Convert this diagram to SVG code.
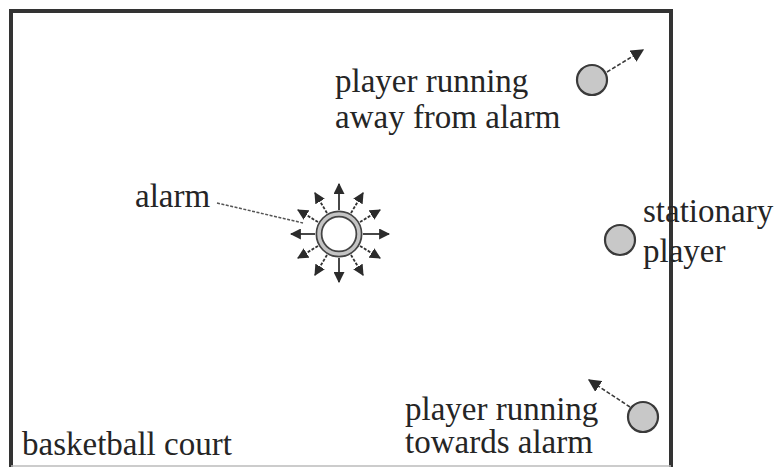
<svg xmlns="http://www.w3.org/2000/svg" width="780" height="467" viewBox="0 0 780 467">
  <defs>
    <marker id="head" viewBox="0 0 10 10" refX="9" refY="5" markerWidth="11" markerHeight="11" markerUnits="userSpaceOnUse" orient="auto">
      <path d="M0,0 L10,5 L0,10 z" fill="#2b2b2b"/>
    </marker>
    <marker id="headBig" viewBox="0 0 10 10" refX="9" refY="5" markerWidth="13" markerHeight="13" markerUnits="userSpaceOnUse" orient="auto">
      <path d="M0,0 L10,5 L0,10 z" fill="#2b2b2b"/>
    </marker>
  </defs>
  <style>
    text { font-family: "Liberation Serif", "Times New Roman", serif; font-size: 33px; fill: #252525; }
    .player { fill: #c8c8c8; stroke: #3a3a3a; stroke-width: 2.2; }
    .ray { stroke: #333; stroke-width: 1.8; fill: none; marker-end: url(#head); }
    .ray.dash { stroke-dasharray: 3 1.5; }
    .move { stroke: #3a3a3a; stroke-width: 1.6; stroke-dasharray: 4 2; fill: none; marker-end: url(#headBig); }
  </style>

  <rect width="780" height="467" fill="#ffffff"/>

  <!-- court outline -->
  <g id="court">
    <path d="M11,467 L11,11 L671,11 L671,467" fill="none" stroke="#333" stroke-width="4"/>
    <line x1="11" y1="466" x2="671" y2="466" stroke="#bbb" stroke-width="1.5"/>
    <text x="22" y="455">basketball court</text>
  </g>

  <!-- alarm with radiating sound -->
  <g id="alarm">
    <circle cx="339" cy="234" r="20" fill="#fff" stroke="#444" stroke-width="7"/>
    <circle cx="339" cy="234" r="20" fill="none" stroke="#c4c4c4" stroke-width="3.5"/>
    <g id="alarm-rays">
      <line class="ray" x1="339" y1="210" x2="339" y2="184"/>
      <line class="ray" x1="339" y1="258" x2="339" y2="282"/>
      <line class="ray" x1="315" y1="234" x2="291" y2="234"/>
      <line class="ray" x1="363" y1="234" x2="389" y2="234"/>
      <line class="ray dash" x1="327" y1="213" x2="315" y2="193"/>
      <line class="ray dash" x1="351" y1="213" x2="363" y2="193"/>
      <line class="ray dash" x1="318" y1="222" x2="298" y2="210"/>
      <line class="ray dash" x1="360" y1="222" x2="380" y2="210"/>
      <line class="ray dash" x1="318" y1="246" x2="298" y2="258"/>
      <line class="ray dash" x1="360" y1="246" x2="380" y2="258"/>
      <line class="ray dash" x1="327" y1="255" x2="315" y2="275"/>
      <line class="ray dash" x1="351" y1="255" x2="363" y2="275"/>
    </g>
    <text x="135" y="207">alarm</text>
  </g>

  <!-- players -->
  <g id="player-away">
    <circle class="player" cx="592" cy="80" r="15"/>
    <text x="335" y="92">player running</text>
    <text x="335" y="128">away from alarm</text>
  </g>

  <g id="player-stationary">
    <circle class="player" cx="620" cy="240" r="15"/>
    <text x="643" y="222">stationary</text>
    <text x="643" y="262">player</text>
  </g>

  <g id="player-towards">
    <circle class="player" cx="643" cy="417" r="15"/>
    <text x="405" y="420">player running</text>
    <text x="405" y="453">towards alarm</text>
  </g>

  <!-- connectors -->
  <g id="connectors">
    <line x1="217" y1="203" x2="303" y2="223" stroke="#555" stroke-width="1.5" stroke-dasharray="3 1.5"/>
    <line class="move" x1="607" y1="72" x2="643" y2="50"/>
    <line class="move" x1="630" y1="407" x2="589" y2="380"/>
  </g>
</svg>
